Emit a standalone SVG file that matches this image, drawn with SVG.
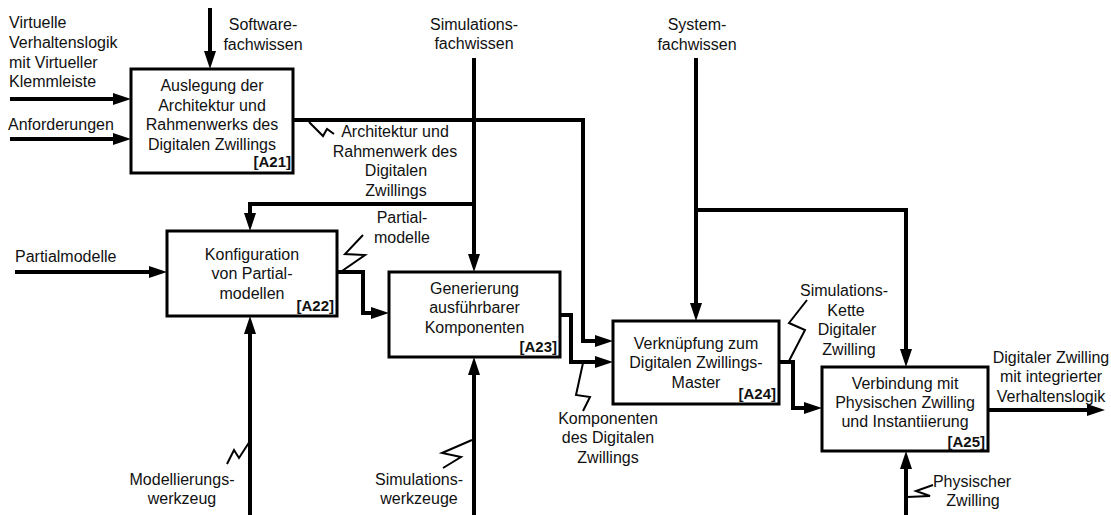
<svg xmlns="http://www.w3.org/2000/svg" width="1111" height="515" viewBox="0 0 1111 515">
  <defs>
    <!-- filled arrowhead; tip sits 8px beyond the line end -->
    <marker id="arrow" markerUnits="userSpaceOnUse" markerWidth="18" markerHeight="12" refX="10" refY="6" orient="auto">
      <path d="M0,0 L18,6 L0,12 z" fill="#000"/>
    </marker>
    <style>
      .box { fill: #fff; stroke: #000; stroke-width: 3; }
      .ttl { font-family: "Liberation Sans", Arial, sans-serif; font-size: 16px; fill: #111; text-anchor: middle; }
      .tag { font-family: "Liberation Sans", Arial, sans-serif; font-size: 15px; font-weight: bold; fill: #111; text-anchor: end; }
      .lbl { font-family: "Liberation Sans", Arial, sans-serif; font-size: 16px; fill: #111; }
      .mid { text-anchor: middle; }
      .flow { fill: none; stroke: #000; stroke-width: 4; stroke-linejoin: miter; }
      .arr { marker-end: url(#arrow); }
      .sq { fill: none; stroke: #000; stroke-width: 2; stroke-linejoin: miter; }
    </style>
  </defs>

  <!-- connectors -->
  <g id="connectors">
    <path class="flow arr" d="M210,8 V61"/>
    <path class="flow arr" d="M10,99 H123"/>
    <path class="flow arr" d="M10,139 H123"/>
    <path class="flow arr" d="M293,120 H583 V341 H605"/>
    <path class="flow arr" d="M474,58 V264"/>
    <path class="flow arr" d="M474,204 H250 V223"/>
    <path class="flow arr" d="M15,272 H159"/>
    <path class="flow arr" d="M337,272 H363 V313 H381"/>
    <path class="flow arr" d="M560,315 H571 V362 H605"/>
    <path class="flow arr" d="M696,58 V313"/>
    <path class="flow arr" d="M696,210 H906 V359"/>
    <path class="flow arr" d="M779,362 H793 V408 H814"/>
    <path class="flow arr" d="M988,410 H1097"/>
    <path class="flow arr" d="M250,515 V324"/>
    <path class="flow arr" d="M474,515 V365"/>
    <path class="flow arr" d="M906,515 V459"/>

    <!-- squiggles tying labels to their arrows -->
    <polyline class="sq" points="309,122 323,136 327,129 334,134"/>
    <polyline class="sq" points="363,235 345,254 365,255 342,271"/>
    <polyline class="sq" points="583,363 576,395 590,397 583,411"/>
    <polyline class="sq" points="789,361 805,330 789,323 807,300"/>
    <polyline class="sq" points="227,464 234,450 239,458 250,441"/>
    <polyline class="sq" points="472,440 442,453 461,457 443,468"/>
    <polyline class="sq" points="907,497 930,496 916,491 933,485"/>
  </g>

  <!-- external labels -->
  <g id="labels">
    <text class="lbl" x="9" y="28">Virtuelle</text>
    <text class="lbl" x="9" y="48">Verhaltenslogik</text>
    <text class="lbl" x="9" y="67.5">mit Virtueller</text>
    <text class="lbl" x="9" y="87">Klemmleiste</text>
    <text class="lbl" x="8" y="130">Anforderungen</text>
    <text class="lbl" x="15" y="262">Partialmodelle</text>

    <text class="lbl mid" x="263" y="30">Software-</text>
    <text class="lbl mid" x="263" y="49.5">fachwissen</text>
    <text class="lbl mid" x="474" y="29.5">Simulations-</text>
    <text class="lbl mid" x="474" y="49">fachwissen</text>
    <text class="lbl mid" x="697" y="30">System-</text>
    <text class="lbl mid" x="697" y="49.5">fachwissen</text>

    <text class="lbl mid" x="395" y="137">Architektur und</text>
    <text class="lbl mid" x="395" y="156.5">Rahmenwerk des</text>
    <text class="lbl mid" x="396" y="176">Digitalen</text>
    <text class="lbl mid" x="396" y="195.5">Zwillings</text>

    <text class="lbl mid" x="402" y="223">Partial-</text>
    <text class="lbl mid" x="402" y="242.5">modelle</text>

    <text class="lbl mid" x="844" y="296">Simulations-</text>
    <text class="lbl mid" x="846" y="315.5">Kette</text>
    <text class="lbl mid" x="847" y="335">Digitaler</text>
    <text class="lbl mid" x="849" y="354.5">Zwilling</text>

    <text class="lbl mid" x="1051" y="362.5">Digitaler Zwilling</text>
    <text class="lbl mid" x="1051" y="382">mit integrierter</text>
    <text class="lbl mid" x="1051" y="401.5">Verhaltenslogik</text>

    <text class="lbl mid" x="608" y="423.5">Komponenten</text>
    <text class="lbl mid" x="608" y="443">des Digitalen</text>
    <text class="lbl mid" x="608" y="462.5">Zwillings</text>

    <text class="lbl mid" x="182" y="485">Modellierungs-</text>
    <text class="lbl mid" x="182" y="504">werkzeug</text>
    <text class="lbl mid" x="419" y="485">Simulations-</text>
    <text class="lbl mid" x="419" y="504">werkzeuge</text>

    <text class="lbl mid" x="972" y="486.5">Physischer</text>
    <text class="lbl mid" x="973" y="505.5">Zwilling</text>
  </g>

  <!-- activity boxes -->
  <g id="A21">
    <rect class="box" x="131" y="69" width="162" height="104"/>
    <text class="ttl" x="212" y="91">Auslegung der</text>
    <text class="ttl" x="212" y="110.5">Architektur und</text>
    <text class="ttl" x="212" y="130">Rahmenwerks des</text>
    <text class="ttl" x="212" y="149.5">Digitalen Zwillings</text>
    <text class="tag" x="291" y="167">[A21]</text>
  </g>
  <g id="A22">
    <rect class="box" x="167" y="231" width="170" height="85"/>
    <text class="ttl" x="252" y="259.5">Konfiguration</text>
    <text class="ttl" x="252" y="279">von Partial-</text>
    <text class="ttl" x="252" y="298.5">modellen</text>
    <text class="tag" x="334" y="311">[A22]</text>
  </g>
  <g id="A23">
    <rect class="box" x="389" y="272" width="171" height="85"/>
    <text class="ttl" x="474.5" y="294">Generierung</text>
    <text class="ttl" x="474.5" y="313">ausführbarer</text>
    <text class="ttl" x="474.5" y="332.5">Komponenten</text>
    <text class="tag" x="557" y="352">[A23]</text>
  </g>
  <g id="A24">
    <rect class="box" x="613" y="321" width="166" height="83"/>
    <text class="ttl" x="696" y="348.5">Verknüpfung zum</text>
    <text class="ttl" x="696" y="368">Digitalen Zwillings-</text>
    <text class="ttl" x="696" y="387.5">Master</text>
    <text class="tag" x="776" y="398.5">[A24]</text>
  </g>
  <g id="A25">
    <rect class="box" x="822" y="367" width="166" height="84"/>
    <text class="ttl" x="905" y="388.5">Verbindung mit</text>
    <text class="ttl" x="905" y="408">Physischen Zwilling</text>
    <text class="ttl" x="905" y="427">und Instantiierung</text>
    <text class="tag" x="985" y="446.5">[A25]</text>
  </g>
</svg>
